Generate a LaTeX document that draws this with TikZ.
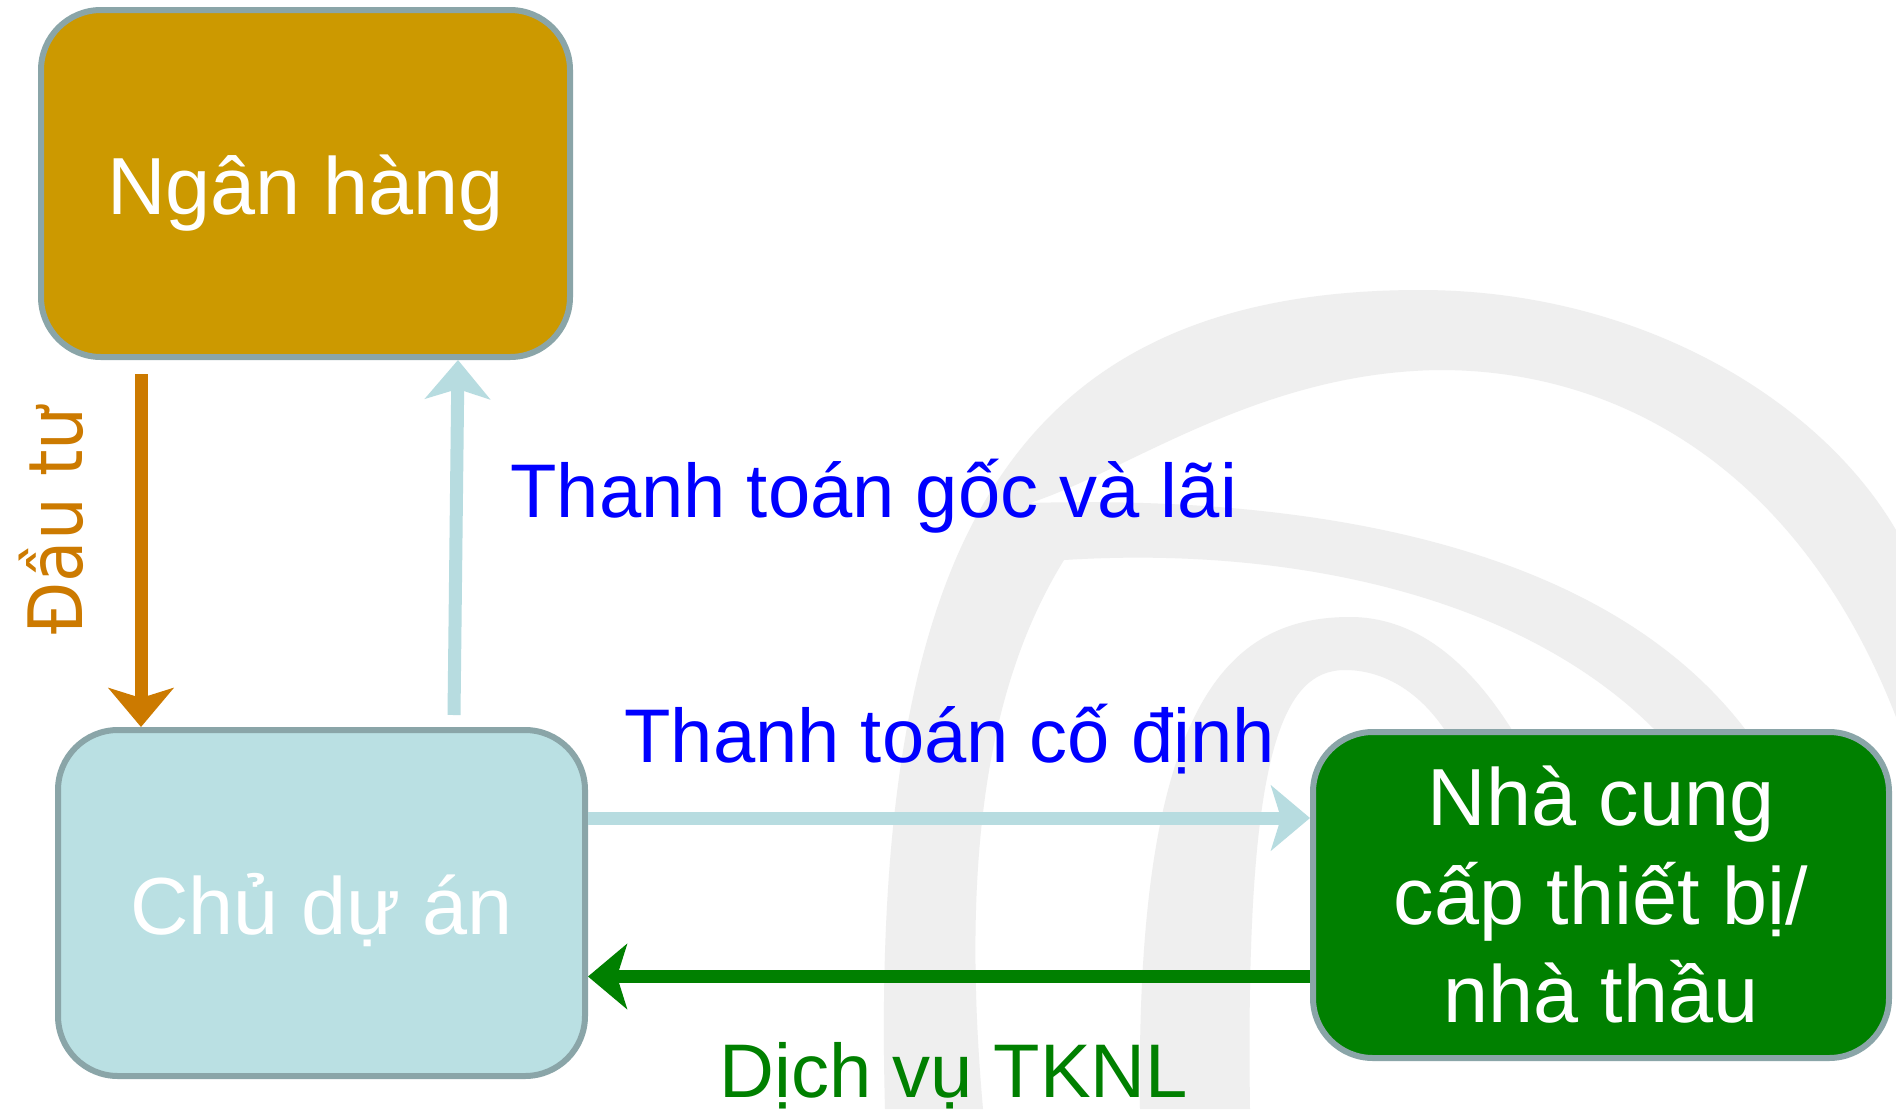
\documentclass[tikz,border=0pt]{standalone}
\usepackage{fontspec}
\setmainfont{Liberation Sans}
\newfontfamily\condfont{DejaVu Sans Condensed}
\usetikzlibrary{arrows.meta}

\definecolor{bankgold}{HTML}{CC9900}
\definecolor{ownerblue}{HTML}{BAE0E3}
\definecolor{supgreen}{HTML}{008000}
\definecolor{boxline}{HTML}{8AA5A8}
\definecolor{investorange}{HTML}{CC7A00}
\definecolor{paylight}{HTML}{B7DCE0}
\definecolor{swirlgray}{HTML}{EFEFEF}

\begin{document}
\begin{tikzpicture}[x=0.5pt,y=-0.5pt,
    big box/.style={draw=boxline,line width=3pt,rounded corners=30pt,text=white,
      font=\fontsize{40.5}{49.25}\selectfont,inner sep=0pt},
    one line/.style={text height=31pt,text depth=0pt},
    flow/.style={line width=6.5pt,-{Stealth[length=19.5pt,width=32.5pt,inset=5pt]}},
    flow label/.style={font=\fontsize{38}{46}\selectfont,inner sep=0pt,anchor=base west}]

	% background swirl
	\fill[white] (0,0) rectangle (1896,1109);
	\fill[swirlgray] (885,1109) .. controls (870,560) and (1000,290) .. (1420,290)
	  .. controls (1640,290) and (1820,400) .. (1896,530) -- (1896,717)
	  .. controls (1800,470) and (1620,370) .. (1440,370)
	  .. controls (1260,372) and (1130,470) .. (1030,503)
	  .. controls (1300,495) and (1620,540) .. (1760,750) -- (1690,770)
	  .. controls (1560,600) and (1300,545) .. (1064,560)
	  .. controls (990,680) and (960,850) .. (983,1109) -- cycle;
	\fill[swirlgray] (1140,1109) .. controls (1135,700) and (1230,617) .. (1350,617)
	  .. controls (1440,617) and (1500,700) .. (1540,780) -- (1470,780)
	  .. controls (1440,700) and (1390,670) .. (1345,670)
	  .. controls (1280,670) and (1245,760) .. (1250,1109) -- cycle;

	\node[big box,one line,fill=bankgold,minimum width=264.5pt,minimum height=173.5pt] (bank) at (305.5,183.5) {Ngân hàng};
	\node[big box,one line,fill=ownerblue,minimum width=263.5pt,minimum height=173pt] (owner) at (321.5,903) {Chủ dự án};
	\node[big box,fill=supgreen,align=center,minimum width=288pt,minimum height=163pt] (supplier) at (1601,895) {Nhà cung\\cấp thiết bị/\\nhà thầu};

	\coordinate (investtop) at (141,374);
	\coordinate (repaybot) at (454,715);

	\draw[flow,investorange] (investtop) -- (investtop |- owner.north);
	\draw[flow,paylight] (repaybot) -- ([xshift=210pt]bank.south west);
	\draw[flow,paylight] ([yshift=42.5pt]owner.east) -- ([yshift=42.5pt]owner.east -| supplier.west);
	\draw[flow,supgreen] ([yshift=-40.75pt]supplier.west) -- ([yshift=-40.75pt]supplier.west -| owner.east);

	\node[investorange,rotate=90,anchor=base,inner sep=0pt,font=\condfont\fontsize{37.5}{45}\selectfont] (investlabel) at (82,521) {Đầu tư};
	\node[flow label,blue] (repaylabel) at (510,517) {Thanh toán gốc và lãi};
	\node[flow label,blue] (fixedlabel) at (624,762) {Thanh toán cố định};
	\node[flow label,supgreen] (servicelabel) at (719,1097) {Dịch vụ TKNL};

	\useasboundingbox (0,0) rectangle (1896,1109);
\end{tikzpicture}
\end{document}
